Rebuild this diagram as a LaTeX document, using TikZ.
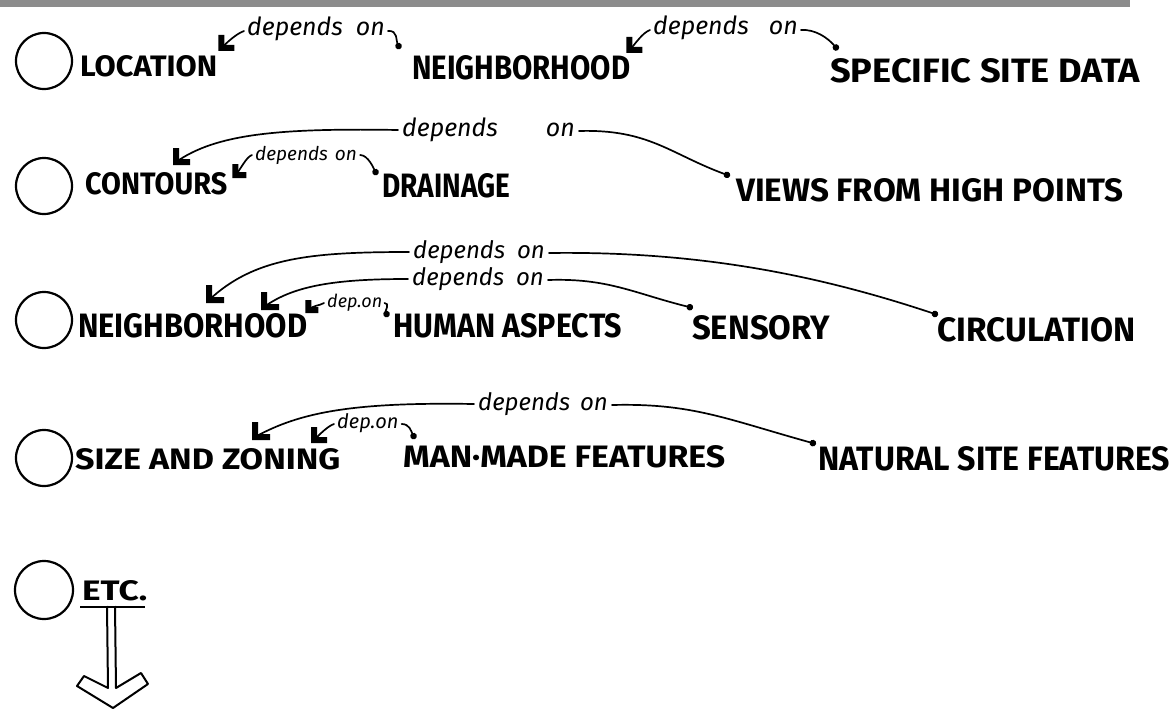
\documentclass[tikz,border=0pt]{standalone}
\usepackage{fontspec}
\setmainfont{Fira Sans}
\usepackage{graphicx}
\usetikzlibrary{arrows.meta}
\newcommand\capfit[3]{\resizebox{#1pt}{#2pt}{\bfseries #3}}
\newcommand\dep[2]{{\fontsize{#1pt}{#1pt}\selectfont\itshape depends\hspace{#2pt}on}}
\newcommand\depshort[1]{{\fontsize{#1pt}{#1pt}\selectfont\itshape dep.on}}
\tikzset{
  ring/.style={circle, draw, line width=2.2pt, minimum size=56pt, inner sep=0pt},
  capbox/.style={inner sep=0pt, anchor=north west},
  deplbl/.style={inner sep=0pt, anchor=base west},
  wire/.style={line width=1.7pt, line cap=round},
  srcdot/.style={{Circle[length=6.5pt]}-}
}
% L-shaped hand-drawn arrow head (filled): corner at #1, arm length #2
\newcommand\lhead[2]{\fill ([shift={(-3,3)}]#1) -- ([shift={(-3,-#2)}]#1) -- ([shift={(3,-#2)}]#1) -- ([shift={(3,-3)}]#1) -- ([shift={(#2,-3)}]#1) -- ([shift={(#2,3)}]#1) -- cycle;}
\begin{document}
\begin{tikzpicture}[x=1pt,y=-1pt]
\useasboundingbox (0,0) rectangle (1176,709);
\fill[black!45] (0,0) rectangle (1130,7);

% Row 1
\node[ring] (c1) at (44,61) {};
\node[capbox] (loc) at (80,55) {\capfit{137}{21}{LOCATION}};
\node[capbox] (nb1) at (412,55) {\capfit{218}{24}{NEIGHBORHOOD}};
\node[capbox] (spec) at (830,58) {\capfit{310}{24}{SPECIFIC SITE DATA}};
\node[deplbl] (d1) at (247,36) {\dep{25}{13}};
\node[deplbl] (d2) at (653,35) {\dep{25}{20}};
\coordinate (t1) at ([shift={(4,-7)}]loc.north east);
\coordinate (t2) at ([shift={(-1,-5)}]nb1.north east);
\draw[wire] ([shift={(-3,-5)}]d1.base west) .. controls +(-8,3) and +(6,-6) .. (t1);
\lhead{t1}{13}
\draw[wire,srcdot] ([shift={(-12,-6)}]nb1.north west) .. controls +(-4,-8) and +(10,-1) .. ([shift={(3,-5)}]d1.base east);
\draw[wire] ([shift={(-3,-5)}]d2.base west) .. controls +(-8,3) and +(6,-6) .. (t2);
\lhead{t2}{13}
\draw[wire,srcdot] ([shift={(8,-8)}]spec.north west) .. controls +(-10,-12) and +(14,-1) .. ([shift={(3,-5)}]d2.base east);

% Row 2
\node[ring] (c2) at (44,186) {};
\node[capbox] (cont) at (85,172) {\capfit{142}{22}{CONTOURS}};
\node[capbox] (drain) at (382,173) {\capfit{128}{24}{DRAINAGE}};
\node[capbox] (views) at (736,178) {\capfit{387}{23}{VIEWS FROM HIGH POINTS}};
\node[deplbl] (d3) at (402,136) {\dep{25}{48}};
\node[deplbl] (d4) at (255,160) {\dep{19}{7}};
\coordinate (t3) at ([shift={(91,-10)}]cont.north west);
\coordinate (t4) at ([shift={(8,3)}]cont.north east);
\draw[wire] ([shift={(-4,-6)}]d3.base west) .. controls +(-120,-2) and +(40,-28) .. (t3);
\lhead{t3}{14}
\draw[wire] ([shift={(-3,-5)}]d4.base west) .. controls +(-6,2) and +(5,-5) .. (t4);
\lhead{t4}{11}
\draw[wire,srcdot] ([shift={(-5,2)}]drain.north west) .. controls +(-3,-6) and +(8,0) .. ([shift={(3,-5)}]d4.base east);
\draw[wire,srcdot] ([shift={(-6,-2)}]views.north west) .. controls +(-60,-22) and +(70,-2) .. ([shift={(4,-5)}]d3.base east);

% Row 3
\node[ring] (c3) at (44,320) {};
\node[capbox] (nb3) at (78,313) {\capfit{229}{24}{NEIGHBORHOOD}};
\node[capbox] (human) at (393,313) {\capfit{229}{24}{HUMAN ASPECTS}};
\node[capbox] (sens) at (692,315) {\capfit{138}{24}{SENSORY}};
\node[capbox] (circ) at (937,317) {\capfit{198}{24}{CIRCULATION}};
\node[deplbl] (d5) at (413,258) {\dep{24}{12}};
\node[deplbl] (d6) at (412,285) {\dep{24}{12}};
\node[deplbl] (d7) at (327,307) {\depshort{18}};
\coordinate (t5) at ([shift={(131,-13)}]nb3.north west);
\coordinate (t6) at ([shift={(186,-6)}]nb3.north west);
\coordinate (t7) at ([shift={(1,-3)}]nb3.north east);
\draw[wire] ([shift={(-4,-6)}]d5.base west) .. controls +(-100,0) and +(45,-42) .. (t5);
\lhead{t5}{15}
\draw[wire] ([shift={(-4,-6)}]d6.base west) .. controls +(-70,0) and +(30,-22) .. (t6);
\lhead{t6}{15}
\draw[wire] ([shift={(-3,-4)}]d7.base west) .. controls +(-5,3) and +(5,-5) .. (t7);
\lhead{t7}{10}
\draw[wire,srcdot] ([shift={(-5,4)}]human.north west) .. controls +(-3,-6) and +(6,0) .. ([shift={(2,-4)}]d7.base east);
\draw[wire,srcdot] ([shift={(1,-2)}]circ.north west) .. controls +(-120,-40) and +(150,-2) .. ([shift={(4,-5)}]d5.base east);
\draw[wire,srcdot] ([shift={(1,-7)}]sens.north west) .. controls +(-60,-15) and +(60,-2) .. ([shift={(4,-5)}]d6.base east);

% Row 4
\node[ring] (c4) at (44,458) {};
\node[capbox] (size) at (75,448) {\capfit{265}{21}{SIZE AND ZONING}};
\node[capbox] (man) at (403,445) {\capfit{322}{22}{MAN\textperiodcentered MADE FEATURES}};
\node[capbox] (nat) at (818,446) {\capfit{352}{24}{NATURAL SITE FEATURES}};
\node[deplbl] (d8) at (478,410) {\dep{24}{10}};
\node[deplbl] (d9) at (337,428) {\depshort{20}};
\coordinate (t8) at ([shift={(180,-11)}]size.north west);
\coordinate (t9) at ([shift={(239,-8)}]size.north west);
\draw[wire] ([shift={(-4,-6)}]d8.base west) .. controls +(-120,-2) and +(45,-25) .. (t8);
\lhead{t8}{15}
\draw[wire] ([shift={(-3,-4)}]d9.base west) .. controls +(-6,2) and +(6,-6) .. (t9);
\lhead{t9}{13}
\draw[wire,srcdot] ([shift={(12,-6)}]man.north west) .. controls +(-4,-8) and +(8,0) .. ([shift={(3,-4)}]d9.base east);
\draw[wire,srcdot] ([shift={(-2,-2)}]nat.north west) .. controls +(-90,-25) and +(80,-2) .. ([shift={(4,-5)}]d8.base east);

% Row 5
\node[ring,minimum size=58pt] (c5) at (44,590) {};
\node[capbox] (etc) at (82,580) {\capfit{65}{20}{ETC.}};
\coordinate (ula) at ([shift={(-2,6)}]etc.south west);
\coordinate (ulb) at ([shift={(-2,6)}]etc.south east);
\draw[line width=2pt] (ula) -- (ulb);
\draw[line width=2pt, line join=round] (107,606) -- (108,688) -- (84,676) -- (77,686) -- (113,708) -- (148,684) -- (141,673) -- (116,688) -- (115,606);
\end{tikzpicture}
\end{document}
